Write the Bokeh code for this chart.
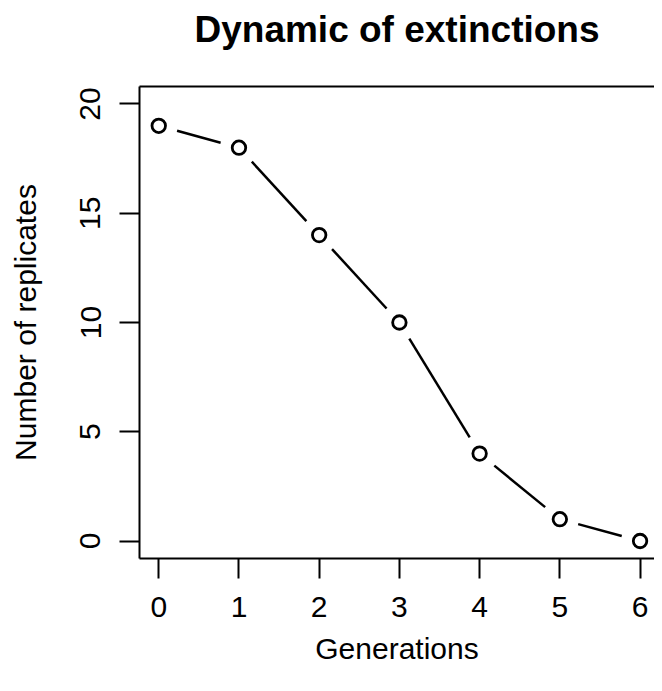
import math
from bokeh.plotting import figure
from bokeh.models import LinearAxis, FixedTicker, Range1d
from bokeh.embed import file_html
from bokeh.resources import INLINE

# ---- data ----
generations = [0, 1, 2, 3, 4, 5, 6]
replicates = [19, 18, 14, 10, 4, 1, 0]
x_ticks = [0, 1, 2, 3, 4, 5, 6]
y_ticks = [0, 5, 10, 15, 20]
title_text = "Dynamic of extinctions"
x_label = "Generations"
y_label = "Number of replicates"

FONT = "Liberation Sans"
W, H = 654, 675
BL, BR, BT, BB = 139, 0, 86, 117
x0r, x1r = -0.24, 6.18
y0r, y1r = -0.8, 20.8

p = figure(width=W, height=H, x_range=Range1d(x0r, x1r), y_range=Range1d(y0r, y1r),
           output_backend="svg", toolbar_location=None,
           min_border_left=BL, min_border_right=BR, min_border_top=BT, min_border_bottom=BB)
p.grid.visible = False
p.outline_line_color = None
p.background_fill_color = "white"
p.border_fill_color = "white"

def style_axis(ax):
    ax.axis_line_width = 2
    ax.axis_line_color = "black"
    ax.major_tick_line_width = 2
    ax.major_tick_line_color = "black"
    ax.major_tick_out = 20
    ax.major_tick_in = 0
    ax.minor_tick_line_color = None
    ax.major_label_text_font = FONT
    ax.major_label_text_font_size = "30px"
    ax.major_label_text_color = "black"
    ax.axis_label_text_font = FONT
    ax.axis_label_text_font_size = "30px"
    ax.axis_label_text_font_style = "normal"
    ax.axis_label_text_color = "black"

xa = p.xaxis[0]
style_axis(xa)
xa.ticker = FixedTicker(ticks=x_ticks)
xa.major_label_standoff = 18
xa.axis_label = x_label
xa.axis_label_standoff = 12

ya = p.yaxis[0]
style_axis(ya)
ya.ticker = FixedTicker(ticks=y_ticks)
ya.major_label_orientation = "vertical"
ya.major_label_standoff = 19
ya.axis_label = y_label
ya.axis_label_standoff = 36

# top border line of the box, carrying the main title as its label
top = LinearAxis(ticker=FixedTicker(ticks=[]), axis_line_width=2, axis_line_color="black",
                 major_tick_line_color=None, minor_tick_line_color=None,
                 major_label_text_font_size="0px",
                 axis_label=title_text, axis_label_text_font=FONT,
                 axis_label_text_font_size="37px", axis_label_text_font_style="bold",
                 axis_label_text_color="black", axis_label_standoff=37)
p.add_layout(top, "above")

fw = W - BL - BR
fh = H - BT - BB
sx = fw / (x1r - x0r)
sy = fh / (y1r - y0r)

# line segments with gaps around points (R type="b")
gap = 19.0
sx0, sy0, sx1, sy1 = [], [], [], []
for i in range(len(generations) - 1):
    xa_, ya_ = generations[i], replicates[i]
    xb_, yb_ = generations[i + 1], replicates[i + 1]
    dx = (xb_ - xa_) * sx
    dy = (yb_ - ya_) * sy
    L = math.hypot(dx, dy)
    if L <= 2 * gap:
        continue
    f = gap / L
    sx0.append(xa_ + (xb_ - xa_) * f)
    sy0.append(ya_ + (yb_ - ya_) * f)
    sx1.append(xb_ - (xb_ - xa_) * f)
    sy1.append(yb_ - (yb_ - ya_) * f)

p.segment(sx0, sy0, sx1, sy1, line_color="black", line_width=2.5)
p.scatter(generations, replicates, marker="circle", size=13.5, fill_color="white",
          line_color="black", line_width=2.8)

open("out.html", "w").write(file_html(p, INLINE))
